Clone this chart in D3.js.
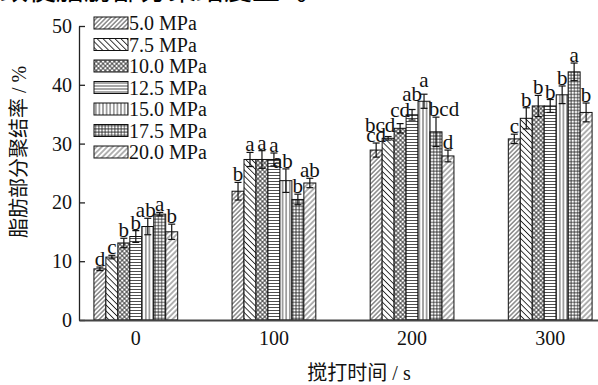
<!DOCTYPE html>
<html>
<head>
<meta charset="utf-8">
<script src="https://cdn.jsdelivr.net/npm/d3@7"></script>
<style>
  body { margin: 0; background: #fff; }
</style>
</head>
<body>
<div id="chart"></div>
<script>
// Data
var categories = ["0", "100", "200", "300"];
var series = ["5.0 MPa", "7.5 MPa", "10.0 MPa", "12.5 MPa", "15.0 MPa", "17.5 MPa", "20.0 MPa"];

var v_5_0 = [8.7, 21.9, 28.9, 30.8];
var v_7_5 = [10.7, 27.3, 30.9, 34.3];
var v_10_0 = [13.1, 27.3, 32.6, 36.4];
var v_12_5 = [14.2, 27.3, 34.9, 36.4];
var v_15_0 = [15.9, 23.7, 37.2, 38.3];
var v_17_5 = [18.0, 20.5, 32.0, 42.2];
var v_20_0 = [15.0, 23.3, 27.9, 35.3];

var e_5_0 = [0.3, 1.5, 1.2, 0.8];
var e_7_5 = [0.3, 1.2, 0.3, 1.8];
var e_10_0 = [0.8, 1.5, 0.8, 1.8];
var e_12_5 = [1.0, 1.1, 0.9, 1.1];
var e_15_0 = [1.4, 2.0, 1.2, 1.5];
var e_17_5 = [0.3, 0.9, 2.5, 1.5];
var e_20_0 = [1.3, 0.8, 1.0, 1.6];

var l_5_0 = ["d", "b", "cd", "c"];
var l_7_5 = ["c", "a", "bcd", "b"];
var l_10_0 = ["b", "a", "cd", "b"];
var l_12_5 = ["b", "a", "ab", "b"];
var l_15_0 = ["ab", "ab", "a", "b"];
var l_17_5 = ["a", "b", "bcd", "a"];
var l_20_0 = ["b", "ab", "d", "b"];

var y_ticks = [0, 10, 20, 30, 40, 50];

var values = [v_5_0, v_7_5, v_10_0, v_12_5, v_15_0, v_17_5, v_20_0];
var errors = [e_5_0, e_7_5, e_10_0, e_12_5, e_15_0, e_17_5, e_20_0];
var letters = [l_5_0, l_7_5, l_10_0, l_12_5, l_15_0, l_17_5, l_20_0];

// hand nudges of crowded letters, as in the print ("cat-series": [dx, dy])
var nudge = {
  "200-1": [-8, -4],
  "200-2": [0, -6],
  "200-3": [0, -7],
  "200-4": [0, -6],
  "200-5": [8, 0],
  "100-4": [-3, 0],
  "0-4": [-2, 0]
};

var FONT = '"Liberation Serif", "Times New Roman", Times, "Noto Sans CJK SC", serif';

var chart_width = 598;
var chart_height = 385;

var rows = [];
categories.forEach(function(c, i) {
  series.forEach(function(s, j) {
    rows.push({ cat: c, ser: s, idx: j, value: values[j][i], err: errors[j][i], letter: letters[j][i] });
  });
});

// Scales
var x_scale = d3
  .scaleBand()
  .domain(categories)
  .range([79, 607])
  .paddingInner(0.3935)
  .paddingOuter(0.108);
var x_inner = d3
  .scaleBand()
  .domain(series)
  .range([0, x_scale.bandwidth()]);
var y_scale = d3
  .scaleLinear()
  .domain([0, 50])
  .range([320, 26]);

// Create SVG Element
var svg = d3
  .select("#chart")
  .append("svg")
  .attr("width", chart_width)
  .attr("height", chart_height);

svg.append("rect").attr("width", chart_width).attr("height", chart_height).attr("fill", "#fff");

// Hatch patterns, one per pressure
var defs = svg.append("defs");
function hatch(id, size, angle, lines, sw) {
  var p = defs
    .append("pattern")
    .attr("id", id)
    .attr("patternUnits", "userSpaceOnUse")
    .attr("width", size)
    .attr("height", size)
    .attr("patternTransform", "rotate(" + angle + ")");
  p.append("rect").attr("width", size).attr("height", size).attr("fill", "#fff");
  if (lines.indexOf("v") >= 0) {
    p.append("line").attr("x1", size / 2).attr("x2", size / 2).attr("y1", 0).attr("y2", size)
      .attr("stroke", "#222").attr("stroke-width", sw);
  }
  if (lines.indexOf("h") >= 0) {
    p.append("line").attr("y1", size / 2).attr("y2", size / 2).attr("x1", 0).attr("x2", size)
      .attr("stroke", "#222").attr("stroke-width", sw);
  }
}
hatch("p0", 3.2, 45, "v", 0.8);
hatch("p1", 4.2, -45, "v", 0.9);
hatch("p2", 3.2, 45, "vh", 0.8);
hatch("p3", 3, 0, "h", 0.8);
hatch("p4", 3.6, 0, "v", 0.8);
hatch("p5", 3.2, 0, "vh", 0.8);
hatch("p6", 3.8, 45, "v", 0.7);

// Bars
var bars = svg.append("g");
bars
  .selectAll("rect")
  .data(rows)
  .enter()
  .append("rect")
  .attr("x", function(d) { return x_scale(d.cat) + x_inner(d.ser); })
  .attr("y", function(d) { return y_scale(d.value); })
  .attr("width", x_inner.bandwidth())
  .attr("height", function(d) { return y_scale(0) - y_scale(d.value); })
  .attr("fill", function(d) { return "url(#p" + d.idx + ")"; })
  .attr("stroke", "#111")
  .attr("stroke-width", 1);

// Error bars
var errs = svg.append("g").attr("stroke", "#111").attr("stroke-width", 1.2);
var cx = function(d) { return x_scale(d.cat) + x_inner(d.ser) + x_inner.bandwidth() / 2; };
errs.selectAll(".stem").data(rows).enter().append("line")
  .attr("x1", cx).attr("x2", cx)
  .attr("y1", function(d) { return y_scale(d.value - d.err); })
  .attr("y2", function(d) { return y_scale(d.value + d.err); });
errs.selectAll(".capTop").data(rows).enter().append("line")
  .attr("x1", function(d) { return cx(d) - 3.5; }).attr("x2", function(d) { return cx(d) + 3.5; })
  .attr("y1", function(d) { return y_scale(d.value + d.err); })
  .attr("y2", function(d) { return y_scale(d.value + d.err); });
errs.selectAll(".capBot").data(rows).enter().append("line")
  .attr("x1", function(d) { return cx(d) - 3.5; }).attr("x2", function(d) { return cx(d) + 3.5; })
  .attr("y1", function(d) { return y_scale(d.value - d.err); })
  .attr("y2", function(d) { return y_scale(d.value - d.err); });

// Significance letters
function nd(d, k) {
  var n = nudge[d.cat + "-" + d.idx];
  return n ? n[k] : 0;
}
svg.append("g")
  .selectAll("text")
  .data(rows)
  .enter()
  .append("text")
  .text(function(d) { return d.letter; })
  .attr("x", function(d) { return cx(d) + nd(d, 0); })
  .attr("y", function(d) { return y_scale(d.value + d.err) - 1 + nd(d, 1); })
  .attr("text-anchor", "middle")
  .style("font-size", "21px");

// Axes
var y_axis = d3.axisLeft(y_scale).tickValues(y_ticks).tickSizeInner(-6).tickSizeOuter(0).tickPadding(7);
var gy = svg.append("g").attr("transform", "translate(79,0)").call(y_axis);
gy.selectAll("text").style("font-size", "20px");
gy.selectAll("path, line").attr("stroke", "#222").attr("stroke-width", 1.3);

var x_axis = d3.axisBottom(x_scale).tickSize(0).tickPadding(11);
var gx = svg.append("g").attr("transform", "translate(0,320)").call(x_axis);
gx.selectAll("text").style("font-size", "20px");
gx.select(".domain").attr("stroke", "#444").attr("stroke-width", 1.8);

// Axis titles
svg.append("text")
  .attr("x", 359)
  .attr("y", 380)
  .attr("text-anchor", "middle")
  .style("font-size", "20px")
  .text("搅打时间 / s");
svg.append("text")
  .attr("transform", "translate(26,152) rotate(-90)")
  .attr("text-anchor", "middle")
  .style("font-size", "20px")
  .text("脂肪部分聚结率 / %");

// Legend
var legend = svg.append("g");
var leg = legend
  .selectAll("g")
  .data(series)
  .enter()
  .append("g")
  .attr("transform", function(d, i) { return "translate(94," + (23 + i * 21.5) + ")"; });
leg.append("rect")
  .attr("x", 0).attr("y", -6).attr("width", 34).attr("height", 12)
  .attr("fill", function(d, i) { return "url(#p" + i + ")"; })
  .attr("stroke", "#111").attr("stroke-width", 1);
leg.append("text")
  .attr("x", 35).attr("y", 7)
  .style("font-size", "20px")
  .text(function(d) { return d; });

// serif face on every text (inline, so axis defaults do not win)
svg.selectAll("text").style("font-family", FONT).attr("fill", "#111");

// Cropped line of body text above the figure
svg.append("text").attr("x", 0).attr("y", 0)
  .style("font-family", "Noto Sans CJK SC").style("font-size", "28px")
  .text("致使脂肪部分聚结度上");
svg.append("text").attr("x", 296).attr("y", 0)
  .style("font-family", "Noto Sans CJK SC").style("font-size", "28px")
  .text("。");
</script>
</body>
</html>
